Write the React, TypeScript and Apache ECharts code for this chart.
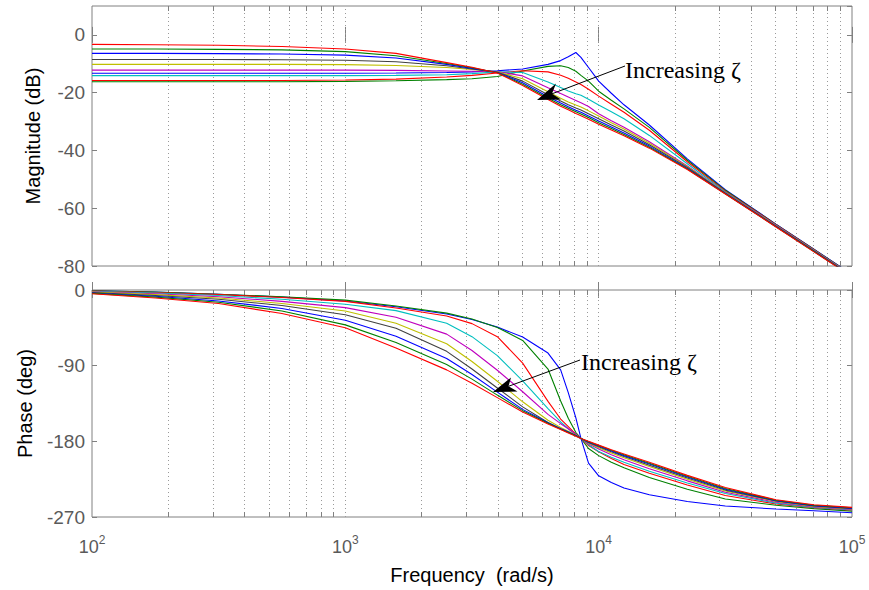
import React, { useEffect, useRef } from 'react';
import * as echarts from 'echarts';

const freqs = [100, 178, 316, 562, 1000, 1585, 2512, 3162, 3981, 5012, 6310, 7079, 7586, 8128, 8511, 9120, 10000, 11220, 12589, 15849, 22387, 31623, 50119, 70795, 100000];

// Magnitude (dB), ordered by increasing damping ratio zeta
const magZ1 = [-13.3, -13.3, -13.3, -13.3, -13.3, -13.2, -13.0, -12.8, -12.4, -11.8, -10.2, -8.9, -7.6, -6.1, -7.8, -11.3, -16.0, -20.2, -24.2, -31.2, -42.9, -53.6, -65.5, -74.2, -82.9];
const magZ2 = [-16.2, -16.2, -16.2, -16.2, -16.1, -15.9, -15.5, -15.2, -14.4, -12.5, -10.9, -10.7, -11.3, -12.6, -14.0, -16.0, -19.5, -22.6, -25.6, -32.0, -43.4, -53.8, -65.6, -74.3, -83.0];
const magZ3 = [-15.8, -15.8, -15.8, -15.8, -15.6, -15.3, -14.6, -14.0, -13.2, -12.4, -12.8, -14.0, -15.0, -16.3, -17.2, -18.8, -21.2, -24.0, -26.8, -33.0, -43.9, -54.1, -65.7, -74.4, -83.1];
const magZ4 = [-14.1, -14.1, -14.1, -14.1, -14.1, -14.0, -13.8, -13.4, -12.8, -13.0, -16.3, -18.2, -19.4, -20.4, -20.9, -22.3, -24.3, -26.6, -29.0, -34.8, -44.6, -54.4, -65.9, -74.5, -83.2];
const magZ5 = [-12.2, -12.2, -12.2, -12.2, -12.2, -12.3, -12.5, -12.6, -12.7, -14.2, -18.3, -20.3, -21.5, -22.7, -23.5, -24.8, -27.3, -29.7, -32.0, -37.0, -45.4, -54.6, -66.0, -74.6, -83.3];
const magZ6 = [-10.2, -10.2, -10.2, -10.2, -10.3, -10.6, -11.3, -12.0, -12.8, -15.2, -19.7, -21.9, -23.2, -24.3, -25.0, -26.3, -28.1, -30.4, -32.6, -37.5, -45.6, -54.7, -66.1, -74.7, -83.4];
const magZ7 = [-8.5, -8.5, -8.5, -8.6, -8.8, -9.3, -10.7, -11.8, -12.9, -16.0, -20.7, -22.9, -24.2, -25.3, -26.0, -27.3, -29.0, -31.2, -33.3, -38.0, -45.9, -54.8, -66.2, -74.8, -83.5];
const magZ8 = [-6.4, -6.4, -6.5, -6.6, -7.0, -8.0, -10.2, -11.6, -13.0, -16.6, -21.4, -23.6, -24.9, -26.1, -26.8, -28.1, -29.8, -31.9, -34.0, -38.5, -46.2, -54.9, -66.3, -74.9, -83.5];
const magZ9 = [-4.9, -4.9, -5.0, -5.2, -5.8, -7.2, -9.9, -11.4, -13.1, -17.1, -21.9, -24.2, -25.4, -26.6, -27.4, -28.6, -30.4, -32.4, -34.5, -38.9, -46.4, -55.0, -66.4, -75.0, -83.6];
const magZ10 = [-3.3, -3.4, -3.6, -4.0, -4.9, -6.4, -9.6, -11.2, -13.2, -17.5, -22.4, -24.7, -25.9, -27.2, -28.0, -29.2, -30.9, -32.9, -34.9, -39.2, -46.6, -55.1, -66.5, -75.1, -83.7];

// Phase (deg), same order
const phaseZ1 = [-1, -2.5, -5, -8.5, -13, -20, -28.5, -35, -44, -56, -75, -95, -122, -152, -176.5, -206, -221, -229, -235.5, -243.5, -251.5, -257, -260.5, -262.5, -265];
const phaseZ2 = [-1, -2.5, -5, -8, -12, -19, -27.5, -34.5, -44.5, -60, -94, -132, -152.5, -169.5, -176.5, -188.5, -197, -205, -211.5, -223, -237, -248.5, -256, -260, -263];
const phaseZ3 = [-1.2, -3, -5.5, -9, -13.5, -21.5, -31, -40, -55.5, -87, -132.5, -153.5, -162.5, -171.5, -176.5, -185, -192.5, -200.5, -207.5, -218, -232, -244.5, -254.5, -259, -262];
const phaseZ4 = [-1.5, -3.5, -6.5, -11, -17, -24.5, -39.5, -55.5, -78, -108, -141, -157, -165, -172, -176.5, -184, -192, -199, -205, -215.5, -229.5, -242, -253.5, -258.5, -261.5];
const phaseZ5 = [-2, -4.5, -8, -13.5, -21, -32.5, -52.5, -72, -95.5, -121, -148, -159, -165, -171.5, -176.5, -183, -189, -196, -202, -212.5, -227, -240.5, -252.5, -258, -261];
const phaseZ6 = [-2.5, -5.5, -9.5, -16, -25, -39.5, -64, -85, -108.5, -133, -155, -163.5, -168, -172.5, -176.5, -182, -187.5, -194, -199.5, -210, -225, -239, -251.5, -257.5, -260.5];
const phaseZ7 = [-3, -6.5, -11, -18.5, -29.5, -45.5, -73, -94, -116.5, -139, -157.5, -165, -169, -173, -176.5, -181.5, -186.5, -192.5, -198, -208.5, -223.5, -238, -251, -257, -260];
const phaseZ8 = [-3.5, -7.5, -13, -22, -36, -55, -81.5, -100.5, -121.5, -142, -158, -165, -169, -173, -176.5, -181, -185.5, -191.5, -197, -207, -222.5, -237, -250.5, -256.5, -259.5];
const phaseZ9 = [-4, -8.5, -14.5, -25, -41.5, -62.5, -88.5, -106, -125, -143.5, -158.5, -165.5, -169.5, -173.5, -176.5, -180.5, -185, -190.5, -196, -206, -221.5, -236, -250, -256, -259];
const phaseZ10 = [-4.5, -9.5, -16, -28, -45, -69, -95, -111, -128, -145, -159.5, -166, -170, -174, -176.5, -180, -184.5, -190, -195, -205, -220.5, -235, -249.5, -255.5, -258.5];

const curveColors = ['#0000FF', '#008000', '#FF0000', '#00BFBF', '#BF00BF', '#BFBF00', '#404040', '#0000FF', '#008000', '#FF0000'];

// Axis settings
const magRange = [-80, 10];
const magStep = 20;
const phaseRange = [-270, 0];
const phaseStep = 90;
const freqRange = [100, 100000];
const gridFreqs = [200, 300, 400, 500, 600, 700, 800, 900, 1000, 2000, 3000, 4000, 5000, 6000, 7000, 8000, 9000, 10000, 20000, 30000, 40000, 50000, 60000, 70000, 80000, 90000];
const decades = [100, 1000, 10000, 100000];

const annotationText = 'Increasing \u03B6';

export default function App() {
  const ref = useRef<HTMLDivElement>(null);

  useEffect(() => {
    if (!ref.current) return;
    const chart = echarts.init(ref.current, null, { renderer: 'svg' });
    const FONT = '"Liberation Sans", Arial, Helvetica, sans-serif';
    const SERIF = '"Liberation Serif", "Times New Roman", serif';
    const gray = '#808080';
    const labelColor = '#5a5a5a';

    const gridDefs = [
      { left: 92, top: 6, width: 760, height: 260 },
      { left: 92, top: 290, width: 760, height: 227 },
    ];

    const xAxisDef = (gridIndex: number, position: string, withLabels: boolean) => ({
      type: 'log',
      logBase: 10,
      min: freqRange[0],
      max: freqRange[1],
      gridIndex,
      position,
      axisLine: { show: false },
      axisTick: { show: true, inside: true, length: 8, lineStyle: { color: gray } },
      splitLine: { show: false },
      axisLabel: withLabels
        ? {
            show: true,
            margin: 17,
            formatter: (v: number) => `{a|10}{b|${Math.round(Math.log10(v))}}`,
            rich: {
              a: { fontSize: 18, color: labelColor, fontFamily: FONT },
              b: { fontSize: 12, color: labelColor, fontFamily: FONT, padding: [0, 0, 13, 0] },
            },
          }
        : { show: false },
      name: withLabels ? 'Frequency  (rad/s)' : '',
      nameLocation: 'middle',
      nameGap: 48,
      nameTextStyle: { fontSize: 20, color: '#000', fontFamily: FONT },
    });

    const yAxisDef = (gridIndex: number, position: string, range: number[], step: number, name: string, nameGap: number) => ({
      type: 'value',
      gridIndex,
      position,
      min: range[0],
      max: range[1],
      interval: step,
      axisLine: { show: false },
      axisTick: { show: true, inside: true, length: 5, lineStyle: { color: gray } },
      splitLine: { show: false },
      axisLabel: name
        ? { show: true, margin: 7, color: labelColor, fontSize: 19, fontFamily: FONT, showMaxLabel: range[1] % step === 0 }
        : { show: false },
      name,
      nameLocation: 'middle',
      nameGap,
      nameTextStyle: { fontSize: 20, color: '#000', fontFamily: FONT },
    });

    const minorFreqs = gridFreqs.filter((f) => decades.indexOf(f) < 0);
    const innerGridFreqs = gridFreqs.filter((f) => f > freqRange[0] && f < freqRange[1]);

    const decoSeries = (xi: number, yi: number, range: number[], pxPerUnit: number) => {
      const t = 5 / pxPerUnit;
      const tickData: any[] = [];
      minorFreqs.forEach((f) => {
        tickData.push([{ coord: [f, range[1]] }, { coord: [f, range[1] - t] }]);
        tickData.push([{ coord: [f, range[0]] }, { coord: [f, range[0] + t] }]);
      });
      return [
        {
          type: 'line',
          xAxisIndex: xi,
          yAxisIndex: yi,
          data: [],
          silent: true,
          z: 1,
          markLine: {
            silent: true,
            z: 1,
            symbol: ['none', 'none'],
            label: { show: false },
            lineStyle: { color: '#9a9a9a', type: [1, 3], width: 1 },
            emphasis: { disabled: true },
            data: innerGridFreqs.map((f) => ({ xAxis: f })),
          },
        },
        {
          type: 'line',
          xAxisIndex: xi,
          yAxisIndex: yi,
          data: [],
          silent: true,
          z: 1,
          markLine: {
            silent: true,
            z: 1,
            symbol: ['none', 'none'],
            label: { show: false },
            lineStyle: { color: gray, type: 'solid', width: 1 },
            emphasis: { disabled: true },
            data: tickData,
          },
        },
      ];
    };

    const mags = [magZ1, magZ2, magZ3, magZ4, magZ5, magZ6, magZ7, magZ8, magZ9, magZ10];
    const phases = [phaseZ1, phaseZ2, phaseZ3, phaseZ4, phaseZ5, phaseZ6, phaseZ7, phaseZ8, phaseZ9, phaseZ10];

    const curve = (vals: number[], i: number, xi: number, yi: number) => ({
      type: 'line',
      xAxisIndex: xi,
      yAxisIndex: yi,
      data: freqs.map((f, j) => [f, vals[j]]),
      showSymbol: false,
      symbol: 'none',
      silent: true,
      z: 3,
      clip: true,
      smooth: false,
      lineStyle: { color: curveColors[i], width: 1.1 },
      itemStyle: { color: curveColors[i] },
    });

    const arrow = (tail: number[], tip: number[], upper: number[], notch: number[], lower: number[]) => [
      { type: 'line', z: 100, shape: { x1: tail[0], y1: tail[1], x2: notch[0], y2: notch[1] }, style: { stroke: '#000', lineWidth: 1 } },
      { type: 'polygon', z: 100, shape: { points: [tip, upper, notch, lower] }, style: { fill: '#000' } },
    ];

    const textEl = (x: number, y: number) => ({
      type: 'text',
      x,
      y,
      z: 100,
      style: {
        text: annotationText,
        fill: '#000',
        font: `24px ${SERIF}`,
        align: 'left',
        verticalAlign: 'middle',
        textAlign: 'left',
        textVerticalAlign: 'middle',
      },
    });

    chart.setOption({
      animation: false,
      backgroundColor: '#ffffff',
      grid: gridDefs.map((g) => ({ ...g, show: true, borderColor: gray, borderWidth: 1, backgroundColor: 'transparent' })),
      xAxis: [
        xAxisDef(0, 'bottom', false),
        xAxisDef(0, 'top', false),
        xAxisDef(1, 'bottom', true),
        xAxisDef(1, 'top', false),
      ],
      yAxis: [
        yAxisDef(0, 'left', magRange, magStep, 'Magnitude (dB)', 49),
        yAxisDef(0, 'right', magRange, magStep, '', 0),
        yAxisDef(1, 'left', phaseRange, phaseStep, 'Phase (deg)', 57),
        yAxisDef(1, 'right', phaseRange, phaseStep, '', 0),
      ],
      series: [
        ...decoSeries(0, 0, magRange, 260 / 90),
        ...decoSeries(2, 2, phaseRange, 227 / 270),
        ...mags.map((m, i) => curve(m, i, 0, 0)),
        ...phases.map((p, i) => curve(p, i, 2, 2)),
      ],
      graphic: [
        textEl(625, 70),
        ...arrow([625, 66], [537, 100], [556, 83.5], [552, 93.8], [561, 99.5]),
        textEl(581, 362),
        ...arrow([580, 360], [493, 392], [511, 377.5], [508.5, 386.3], [517.5, 391.5]),
      ],
    });

    return () => chart.dispose();
  }, []);

  return (
    <div
      ref={ref}
      style={{ position: 'fixed', left: 0, top: 0, width: 869, height: 590, background: '#fff' }}
    />
  );
}
